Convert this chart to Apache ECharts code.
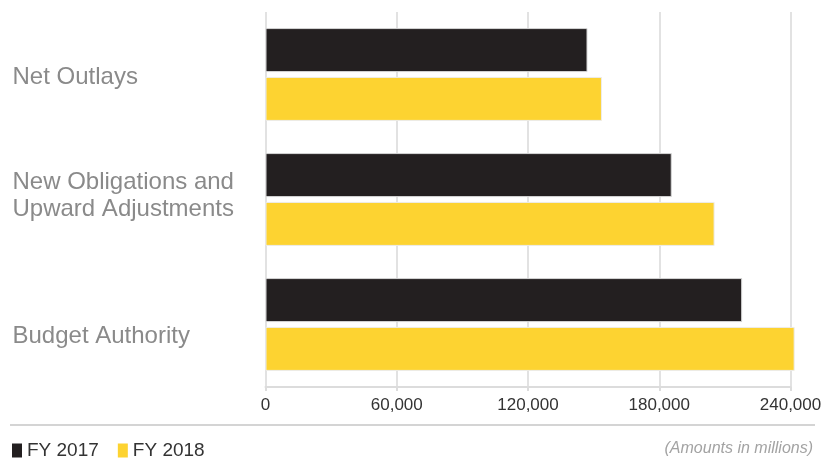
<!DOCTYPE html>
<html>
<head>
<meta charset="utf-8">
<script src="https://cdn.jsdelivr.net/npm/echarts@6/dist/echarts.min.js"></script>
<style>
  html, body { margin: 0; padding: 0; background: #ffffff; }
  #chart { width: 825px; height: 458px; }
</style>
</head>
<body>
<div id="chart"></div>
<script>
// Budgetary resources, amounts in millions
const categories = ['Net Outlays', 'New Obligations and\nUpward Adjustments', 'Budget Authority'];
const fy2017 = [147200, 185700, 217900];
const fy2018 = [153800, 205300, 241900];
const seriesNames = ['FY 2017', 'FY 2018'];
const xTicks = [0, 60000, 120000, 180000, 240000];

const FONT = '"Liberation Sans", Arial, Helvetica, sans-serif';
const chart = echarts.init(document.getElementById('chart'), null, { renderer: 'canvas' });

// spacer rows (px) placed above / below each category label to nudge it vertically
const spacerAbove = [5, 0, 24];
const spacerBelow = [0, 8, 0];

function labelText(value, idx) {
  const rows = value.split('\n').map(l => '{t|' + l + '}');
  if (spacerAbove[idx]) rows.unshift('{s' + spacerAbove[idx] + '| }');
  if (spacerBelow[idx]) rows.push('{s' + spacerBelow[idx] + '| }');
  return rows.join('\n');
}

const rich = { t: { color: '#8a8a8a', fontFamily: FONT, fontSize: 24, lineHeight: 27 } };
new Set(spacerAbove.concat(spacerBelow)).forEach(h => {
  if (h) rich['s' + h] = { fontSize: 1, lineHeight: h, height: h };
});

chart.setOption({
  animation: false,
  backgroundColor: '#ffffff',
  grid: { left: 265.5, right: 34.5, top: 12, height: 375 },
  xAxis: {
    type: 'value',
    min: xTicks[0],
    max: xTicks[xTicks.length - 1],
    interval: xTicks[1] - xTicks[0],
    axisLine: { show: true, lineStyle: { color: '#dcdcdc', width: 2 } },
    axisTick: { show: true, length: 4, lineStyle: { color: '#dcdcdc', width: 2 } },
    splitLine: { show: true, lineStyle: { color: '#e2e2e2', width: 2 } },
    axisLabel: {
      color: '#333333', fontFamily: FONT, fontSize: 17, margin: 10,
      formatter: v => v.toLocaleString('en-US')
    }
  },
  yAxis: {
    type: 'category',
    inverse: true,
    data: categories,
    axisLine: { show: false },
    axisTick: { show: false },
    axisLabel: {
      align: 'left',
      margin: 253,
      color: '#8a8a8a',
      fontFamily: FONT,
      fontSize: 24,
      formatter: labelText,
      rich: rich
    }
  },
  legend: {
    left: 12,
    top: 441,
    padding: 0,
    icon: 'rect',
    itemWidth: 10,
    itemHeight: 14,
    itemGap: 19,
    itemStyle: { borderWidth: 0 },
    textStyle: { color: '#333333', fontFamily: FONT, fontSize: 19 },
    data: seriesNames
  },
  series: [
    {
      name: seriesNames[0], type: 'bar', data: fy2017,
      barWidth: 44, barGap: '11%', clip: false,
      itemStyle: { color: '#231f20', borderColor: '#d6d6d6', borderWidth: 1 }
    },
    {
      name: seriesNames[1], type: 'bar', data: fy2018,
      barWidth: 44, barGap: '11%', clip: false,
      itemStyle: { color: '#fdd331', borderColor: '#ececec', borderWidth: 1 }
    }
  ],
  graphic: [
    {
      type: 'line',
      shape: { x1: 10, y1: 425, x2: 815, y2: 425 },
      style: { stroke: '#d4d4d4', lineWidth: 2 }
    },
    {
      type: 'text',
      right: 12,
      top: 441,
      style: {
        text: '(Amounts in millions)',
        fill: '#a3a3a3',
        font: 'italic 16px ' + FONT
      }
    }
  ]
});
</script>
</body>
</html>
